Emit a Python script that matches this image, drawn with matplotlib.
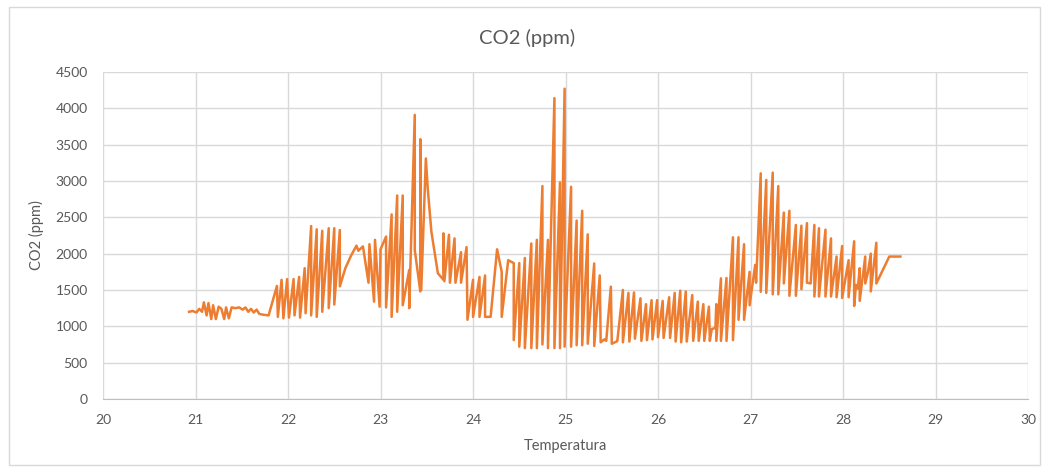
import matplotlib
matplotlib.use("Agg")
import matplotlib.pyplot as plt
from matplotlib.patches import Rectangle

# temperature (x) and CO2 ppm (y) in plot order
temperatura = [
    20.93, 20.97, 21.01, 21.04, 21.07, 21.09, 21.12, 21.14, 21.17, 21.19,
    21.22, 21.25, 21.28, 21.31, 21.33, 21.36, 21.39, 21.43, 21.47, 21.51,
    21.54, 21.57, 21.60, 21.63, 21.66, 21.69, 21.73, 21.79,
    21.88, 21.89, 21.93, 21.95, 21.99, 22.01, 22.06, 22.07, 22.12, 22.13,
    22.18, 22.19, 22.25, 22.25, 22.31, 22.31, 22.37, 22.37, 22.44, 22.44,
    22.50, 22.50, 22.56, 22.56,
    22.62, 22.68, 22.74, 22.76, 22.81, 22.87, 22.88, 22.93, 22.94, 22.99,
    23.00, 23.06, 23.06, 23.12, 23.12, 23.18, 23.18, 23.24, 23.24, 23.31,
    23.31, 23.37, 23.37, 23.43, 23.43, 23.44, 23.49, 23.51, 23.55, 23.62,
    23.68, 23.68, 23.69, 23.74, 23.75, 23.80, 23.81, 23.87, 23.87, 23.93,
    23.94,
    24.00, 24.00, 24.07, 24.07, 24.13, 24.13, 24.19, 24.26, 24.31, 24.31,
    24.38, 24.44, 24.44, 24.50, 24.50, 24.56, 24.56, 24.63, 24.63, 24.69,
    24.69, 24.75, 24.75, 24.81, 24.81, 24.88, 24.88, 24.94, 24.94, 24.99,
    24.99, 25.06, 25.06, 25.12, 25.12, 25.18, 25.18, 25.24, 25.24, 25.31,
    25.31, 25.37, 25.38, 25.42, 25.44, 25.49, 25.50, 25.55, 25.56, 25.62,
    25.62, 25.68, 25.69, 25.74, 25.75, 25.81, 25.82, 25.87, 25.88, 25.93,
    25.94, 25.99, 26.00, 26.05, 26.06, 26.12, 26.13, 26.18, 26.19, 26.24,
    26.25, 26.30, 26.31, 26.37, 26.38, 26.43, 26.44, 26.49, 26.50, 26.55,
    26.56, 26.58, 26.62, 26.63, 26.63, 26.68, 26.68, 26.74, 26.74, 26.81,
    26.81, 26.87, 26.87, 26.93, 26.93, 26.99, 26.99, 27.05, 27.06,
    27.11, 27.11, 27.17, 27.17, 27.24, 27.24, 27.30, 27.30, 27.36, 27.36,
    27.42, 27.42, 27.49, 27.49, 27.55, 27.55, 27.61, 27.61, 27.65,
    27.69, 27.69, 27.74, 27.74, 27.81, 27.81, 27.87, 27.87, 27.93, 27.93,
    27.99, 27.99, 28.06, 28.06, 28.12, 28.12, 28.14, 28.16, 28.18, 28.18,
    28.24, 28.24, 28.27, 28.30, 28.30, 28.36, 28.36, 28.50, 28.62,
]
co2 = [
    1200, 1210, 1190, 1240, 1200, 1330, 1150, 1320, 1100, 1290,
    1100, 1270, 1240, 1100, 1260, 1110, 1260, 1250, 1260, 1230,
    1260, 1200, 1240, 1190, 1230, 1170, 1160, 1150,
    1555, 1130, 1640, 1110, 1650, 1120, 1650, 1150, 1680, 1120,
    1800, 1180, 2380, 1150, 2335, 1130, 2315, 1200, 2350, 1250,
    2350, 1300, 2325, 1550,
    1800, 1970, 2110, 2040, 2100, 1600, 2130, 1340, 2190, 1270,
    2060, 2235, 1260, 2540, 1130, 2800, 1200, 2800, 1290, 1775,
    1250, 3910, 2050, 1480, 3575, 1500, 3310, 2900, 2300, 1730,
    1640, 2280, 1620, 2260, 1600, 2210, 1600, 2020, 1600, 2090,
    1090,
    1640, 1130, 1680, 1130, 1700, 1130, 1130, 2060, 1750, 1130,
    1910, 1870, 810, 1870, 720, 1940, 700, 2140, 700, 2190,
    700, 2930, 750, 2190, 700, 4140, 700, 2980, 700, 4270,
    720, 2920, 720, 2455, 740, 2590, 740, 2265, 760, 1865,
    730, 1700, 780, 820, 800, 1545, 760, 790, 800, 1500,
    780, 1460, 790, 1465, 830, 1385, 800, 1305, 810, 1360,
    820, 1360, 850, 1350, 840, 1400, 840, 1460, 790, 1490,
    780, 1480, 790, 1430, 800, 1340, 800, 1305, 800, 1270,
    800, 960, 980, 1305, 800, 1660, 800, 1665, 800, 2225,
    810, 2225, 1090, 2130, 1090, 1750, 1290, 1845, 1600,
    3105, 1475, 3015, 1460, 3115, 1440, 2930, 1440, 2565, 1590,
    2590, 1420, 2395, 1420, 2385, 1510, 2420, 1600, 1590,
    2395, 1410, 2350, 1410, 2330, 1410, 2210, 1410, 1960, 1400,
    2105, 1390, 1910, 1400, 2170, 1280, 1570, 1520, 1800, 1350,
    1960, 1590, 1750, 2000, 1480, 2150, 1590, 1960, 1960,
]

x_ticks = list(range(20, 31))
y_ticks = list(range(0, 4501, 500))

FONT = ["Lato", "DejaVu Sans"]
GREY = "#595959"

fig = plt.figure(figsize=(10.47, 4.69), dpi=100)
fig.patches.append(Rectangle((9 / 1047, 4 / 469), 1031 / 1047, 458 / 469,
                             transform=fig.transFigure, fill=False,
                             edgecolor="#d9d9d9", linewidth=1))

ax = fig.add_axes([0.0984, 0.1493, 0.8835, 0.6972])
ax.plot(temperatura, co2, color="#ED7D31", linewidth=1.8, zorder=3)

ax.set_xlim(20, 30)
ax.set_ylim(0, 4500)
ax.set_xticks(x_ticks)
ax.set_yticks(y_ticks)
ax.grid(True, color="#d9d9d9", linewidth=1)
ax.set_axisbelow(True)
for side in ["top", "right", "left"]:
    ax.spines[side].set_visible(False)
ax.spines["bottom"].set_color("#bfbfbf")
ax.tick_params(length=0, colors=GREY, labelsize=10)
ax.tick_params(axis="x", pad=11)
ax.tick_params(axis="y", pad=11)
for lab in ax.get_xticklabels() + ax.get_yticklabels():
    lab.set_fontfamily(FONT)

ax.set_xlabel("Temperatura", color=GREY, fontsize=10.5, family=FONT, labelpad=9)
ax.set_ylabel("CO2 (ppm)", color=GREY, fontsize=10.5, family=FONT, labelpad=8)
fig.text(0.503, 0.92, "CO2 (ppm)", ha="center", va="center",
         color=GREY, fontsize=14.5, family=FONT)

fig.savefig("out.png", dpi=100)
